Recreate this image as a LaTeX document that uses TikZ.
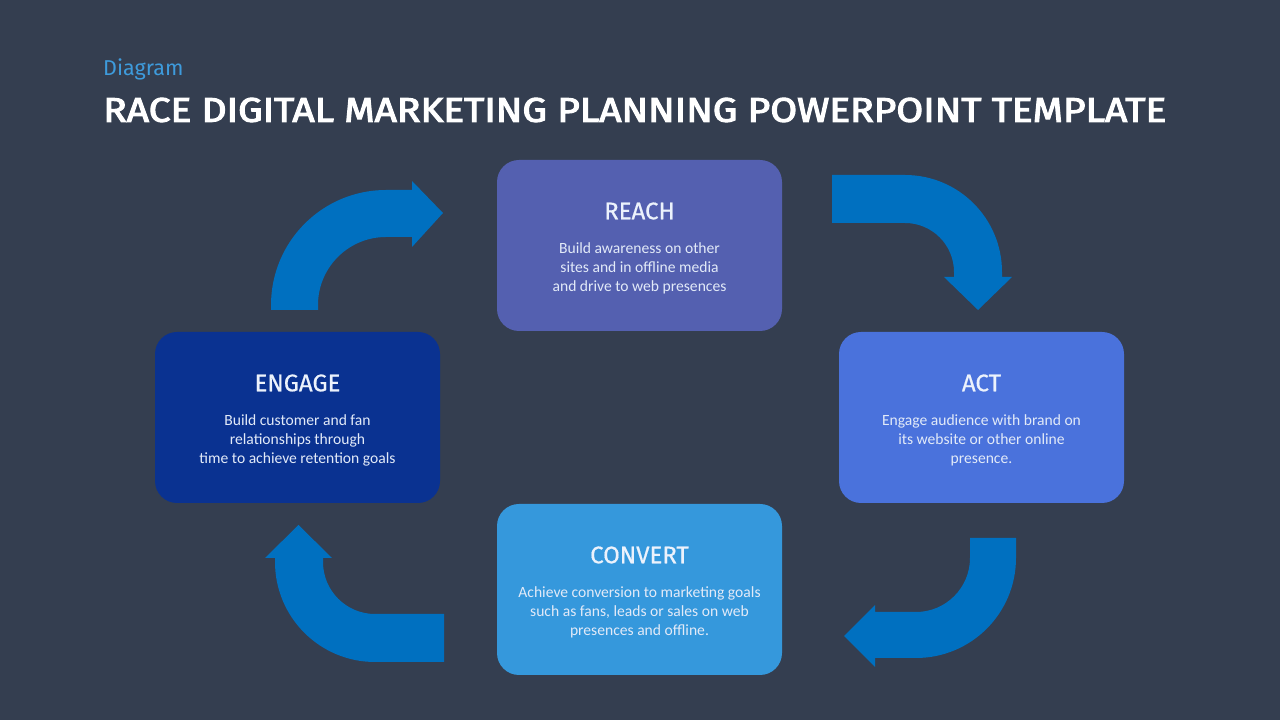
\documentclass[tikz,border=0pt]{standalone}
\usepackage{fontspec}
\setmainfont{Carlito}
\newfontfamily\headfont{Fira Sans}
\newfontfamily\cardfont[FakeBold=0.6]{Fira Sans}
\newfontfamily\titlefont[FakeBold=3]{Fira Sans}
\usepackage{graphicx}
\definecolor{bgc}{RGB}{52,62,80}
\definecolor{arrowc}{RGB}{0,112,192}
\definecolor{reachc}{RGB}{84,96,176}
\definecolor{engagec}{RGB}{10,50,145}
\definecolor{actc}{RGB}{74,114,220}
\definecolor{convertc}{RGB}{53,152,220}
\definecolor{subc}{RGB}{62,155,220}
\definecolor{headtxt}{RGB}{236,242,252}
\definecolor{bodytxt}{RGB}{226,234,248}
\tikzset{
  card/.style={rounded corners=22pt, minimum width=285pt, minimum height=171pt, inner sep=0pt},
  cardhead/.style={text=headtxt, font=\cardfont\fontsize{24}{28}\selectfont, inner sep=0pt, anchor=center},
  cardbody/.style={text=bodytxt, font=\fontsize{15.6}{19}\selectfont, align=center, inner sep=0pt, anchor=center},
  bentarrow/.style={fill=arrowc, draw=none}
}
\begin{document}
\begin{tikzpicture}[x=1pt,y=1pt]
\fill[bgc] (0,0) rectangle (1280,720);
\useasboundingbox (0,0) rectangle (1280,720);

% titles
\node[anchor=west, text=subc, font=\headfont\fontsize{21.5}{24}\selectfont, inner sep=0pt] (sub) at (103,651) {Diagram};
\node[anchor=west, text=white, inner sep=0pt] (title) at (103,610) {\resizebox{1063pt}{24pt}{\titlefont RACE DIGITAL MARKETING PLANNING POWERPOINT TEMPLATE}};

% cards
\node[card, fill=reachc] (reach) at (639.5,474.5) {};
\node[card, fill=engagec] (engage) at (297.5,302.5) {};
\node[card, fill=actc] (act) at (981.5,302.5) {};
\node[card, fill=convertc] (convert) at (639.5,130.5) {};

\node[cardhead] (reachh) at ([yshift=34.5pt]reach.center) {REACH};
\node[cardbody] (reachb) at ([yshift=-23pt]reach.center) {Build awareness on other\\sites and in offline media\\and drive to web presences};

\node[cardhead] (engageh) at ([yshift=34.5pt]engage.center) {ENGAGE};
\node[cardbody] (engageb) at ([yshift=-23pt]engage.center) {Build customer and fan\\relationships through\\time to achieve retention goals};

\node[cardhead] (acth) at ([yshift=34.5pt]act.center) {ACT};
\node[cardbody] (actb) at ([yshift=-23pt]act.center) {Engage audience with brand on\\its website or other online\\presence.};

\node[cardhead] (converth) at ([yshift=34.5pt]convert.center) {CONVERT};
\node[cardbody] (convertb) at ([yshift=-23pt]convert.center) {Achieve conversion to marketing goals\\such as fans, leads or sales on web\\presences and offline.};

% arrow: engage -> reach (top left)
\fill[bentarrow] (271,410) -- (271,415) arc[start angle=180, end angle=90, radius=115pt]
  -- (412,530) -- (412,539) -- (443,507) -- (412,473) -- (412,483) -- (386,483)
  arc[start angle=90, end angle=180, radius=68pt] -- (318,410) -- cycle;

% arrow: reach -> act (top right)
\fill[bentarrow] (832,545) -- (905,545) arc[start angle=90, end angle=0, radius=97pt]
  -- (1002,443) -- (1012,443) -- (978,410) -- (944,443) -- (954,443) -- (954,448)
  arc[start angle=0, end angle=90, radius=49pt] -- (832,497) -- cycle;

% arrow: act -> convert (bottom right)
\fill[bentarrow] (1016,182) -- (1016,162) arc[start angle=0, end angle=-90, radius=100pt]
  -- (875,62) -- (875,53) -- (844,84) -- (875,115) -- (875,108) -- (916,108)
  arc[start angle=-90, end angle=0, radius=54pt] -- (970,182) -- cycle;

% arrow: convert -> engage (bottom left)
\fill[bentarrow] (444,106) -- (375,106) arc[start angle=-90, end angle=-180, radius=52pt]
  -- (323,162) -- (332,162) -- (298.5,195) -- (265,162) -- (275,162) -- (275,158)
  arc[start angle=180, end angle=270, radius=100pt] -- (444,58) -- cycle;
\end{tikzpicture}
\end{document}
